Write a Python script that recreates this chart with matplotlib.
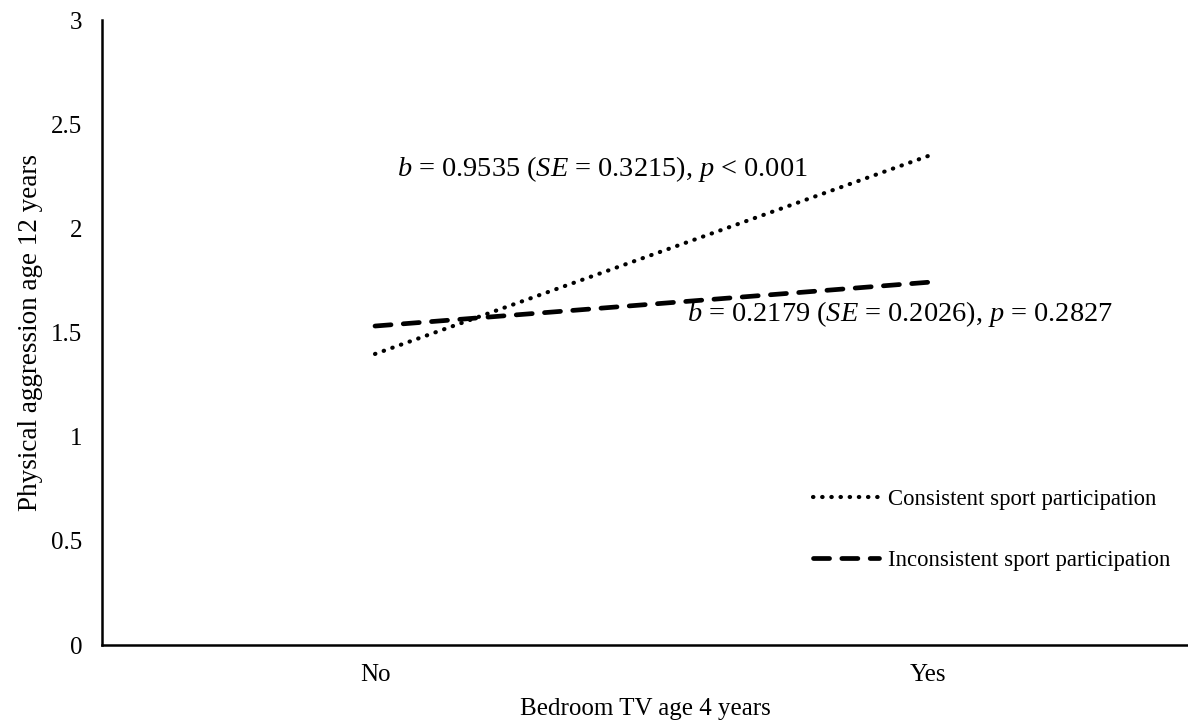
import matplotlib
matplotlib.use("Agg")
import matplotlib.pyplot as plt

categories = ["No", "Yes"]
consistent = [1.397, 2.347]
inconsistent = [1.531, 1.741]
series_labels = ["Consistent sport participation", "Inconsistent sport participation"]
y_ticks = [0, 0.5, 1, 1.5, 2, 2.5, 3]
y_tick_labels = ["0", "0.5", "1", "1.5", "2", "2.5", "3"]
annot1 = r"$b$ = 0.9535 ($SE$ = 0.3215), $p$ < 0.001"
annot2 = r"$b$ = 0.2179 ($SE$ = 0.2026), $p$ = 0.2827"

plt.rcParams['font.family'] = ['Liberation Serif', 'DejaVu Serif']
plt.rcParams['mathtext.fontset'] = 'custom'
plt.rcParams['mathtext.it'] = 'Liberation Serif:italic'
plt.rcParams['mathtext.rm'] = 'Liberation Serif'

W, H = 1188, 721
fig = plt.figure(figsize=(W/100, H/100), dpi=100)
left, right, bottom, top = 102, 1188, 645, 20
ax = fig.add_axes([left/W, 1-bottom/H, (right-left)/W, (bottom-top)/H])

x = list(range(len(categories)))
ax.plot(x, consistent, color='black', lw=3.0, linestyle=(0, (0.1, 2.1)),
        dash_capstyle='round', label=series_labels[0])
ax.plot(x, inconsistent, color='black', lw=3.4, linestyle=(0, (3.4, 2.6)),
        dash_capstyle='round', label=series_labels[1])

ax.set_xlim(-0.4937, 1.4702)
ax.set_ylim(0, 3)
ax.set_xticks(x)
ax.set_xticklabels(categories)
ax.set_yticks(y_ticks)
ax.set_yticklabels(y_tick_labels)
ax.tick_params(axis='both', length=0, labelsize=18)
ax.tick_params(axis='x', pad=14)
ax.tick_params(axis='y', pad=14)
for s in ['top', 'right']:
    ax.spines[s].set_visible(False)
for s in ['left', 'bottom']:
    ax.spines[s].set_linewidth(1.8)

ax.set_xlabel("Bedroom TV age 4 years", fontsize=18, labelpad=8)
ax.set_ylabel("Physical aggression age 12 years", fontsize=19.5, labelpad=6)

ax.text(0.04, 2.285, annot1, fontsize=20.4, ha='left', va='center')
ax.text(0.565, 1.59, annot2, fontsize=20.4, ha='left', va='center')

leg = ax.legend(loc='lower right', bbox_to_anchor=(0.992, 0.104), borderaxespad=0,
                frameon=False, fontsize=16.4, handlelength=2.9, handletextpad=0.4,
                labelspacing=1.75)

fig.savefig("out.png", dpi=100, facecolor='white')
